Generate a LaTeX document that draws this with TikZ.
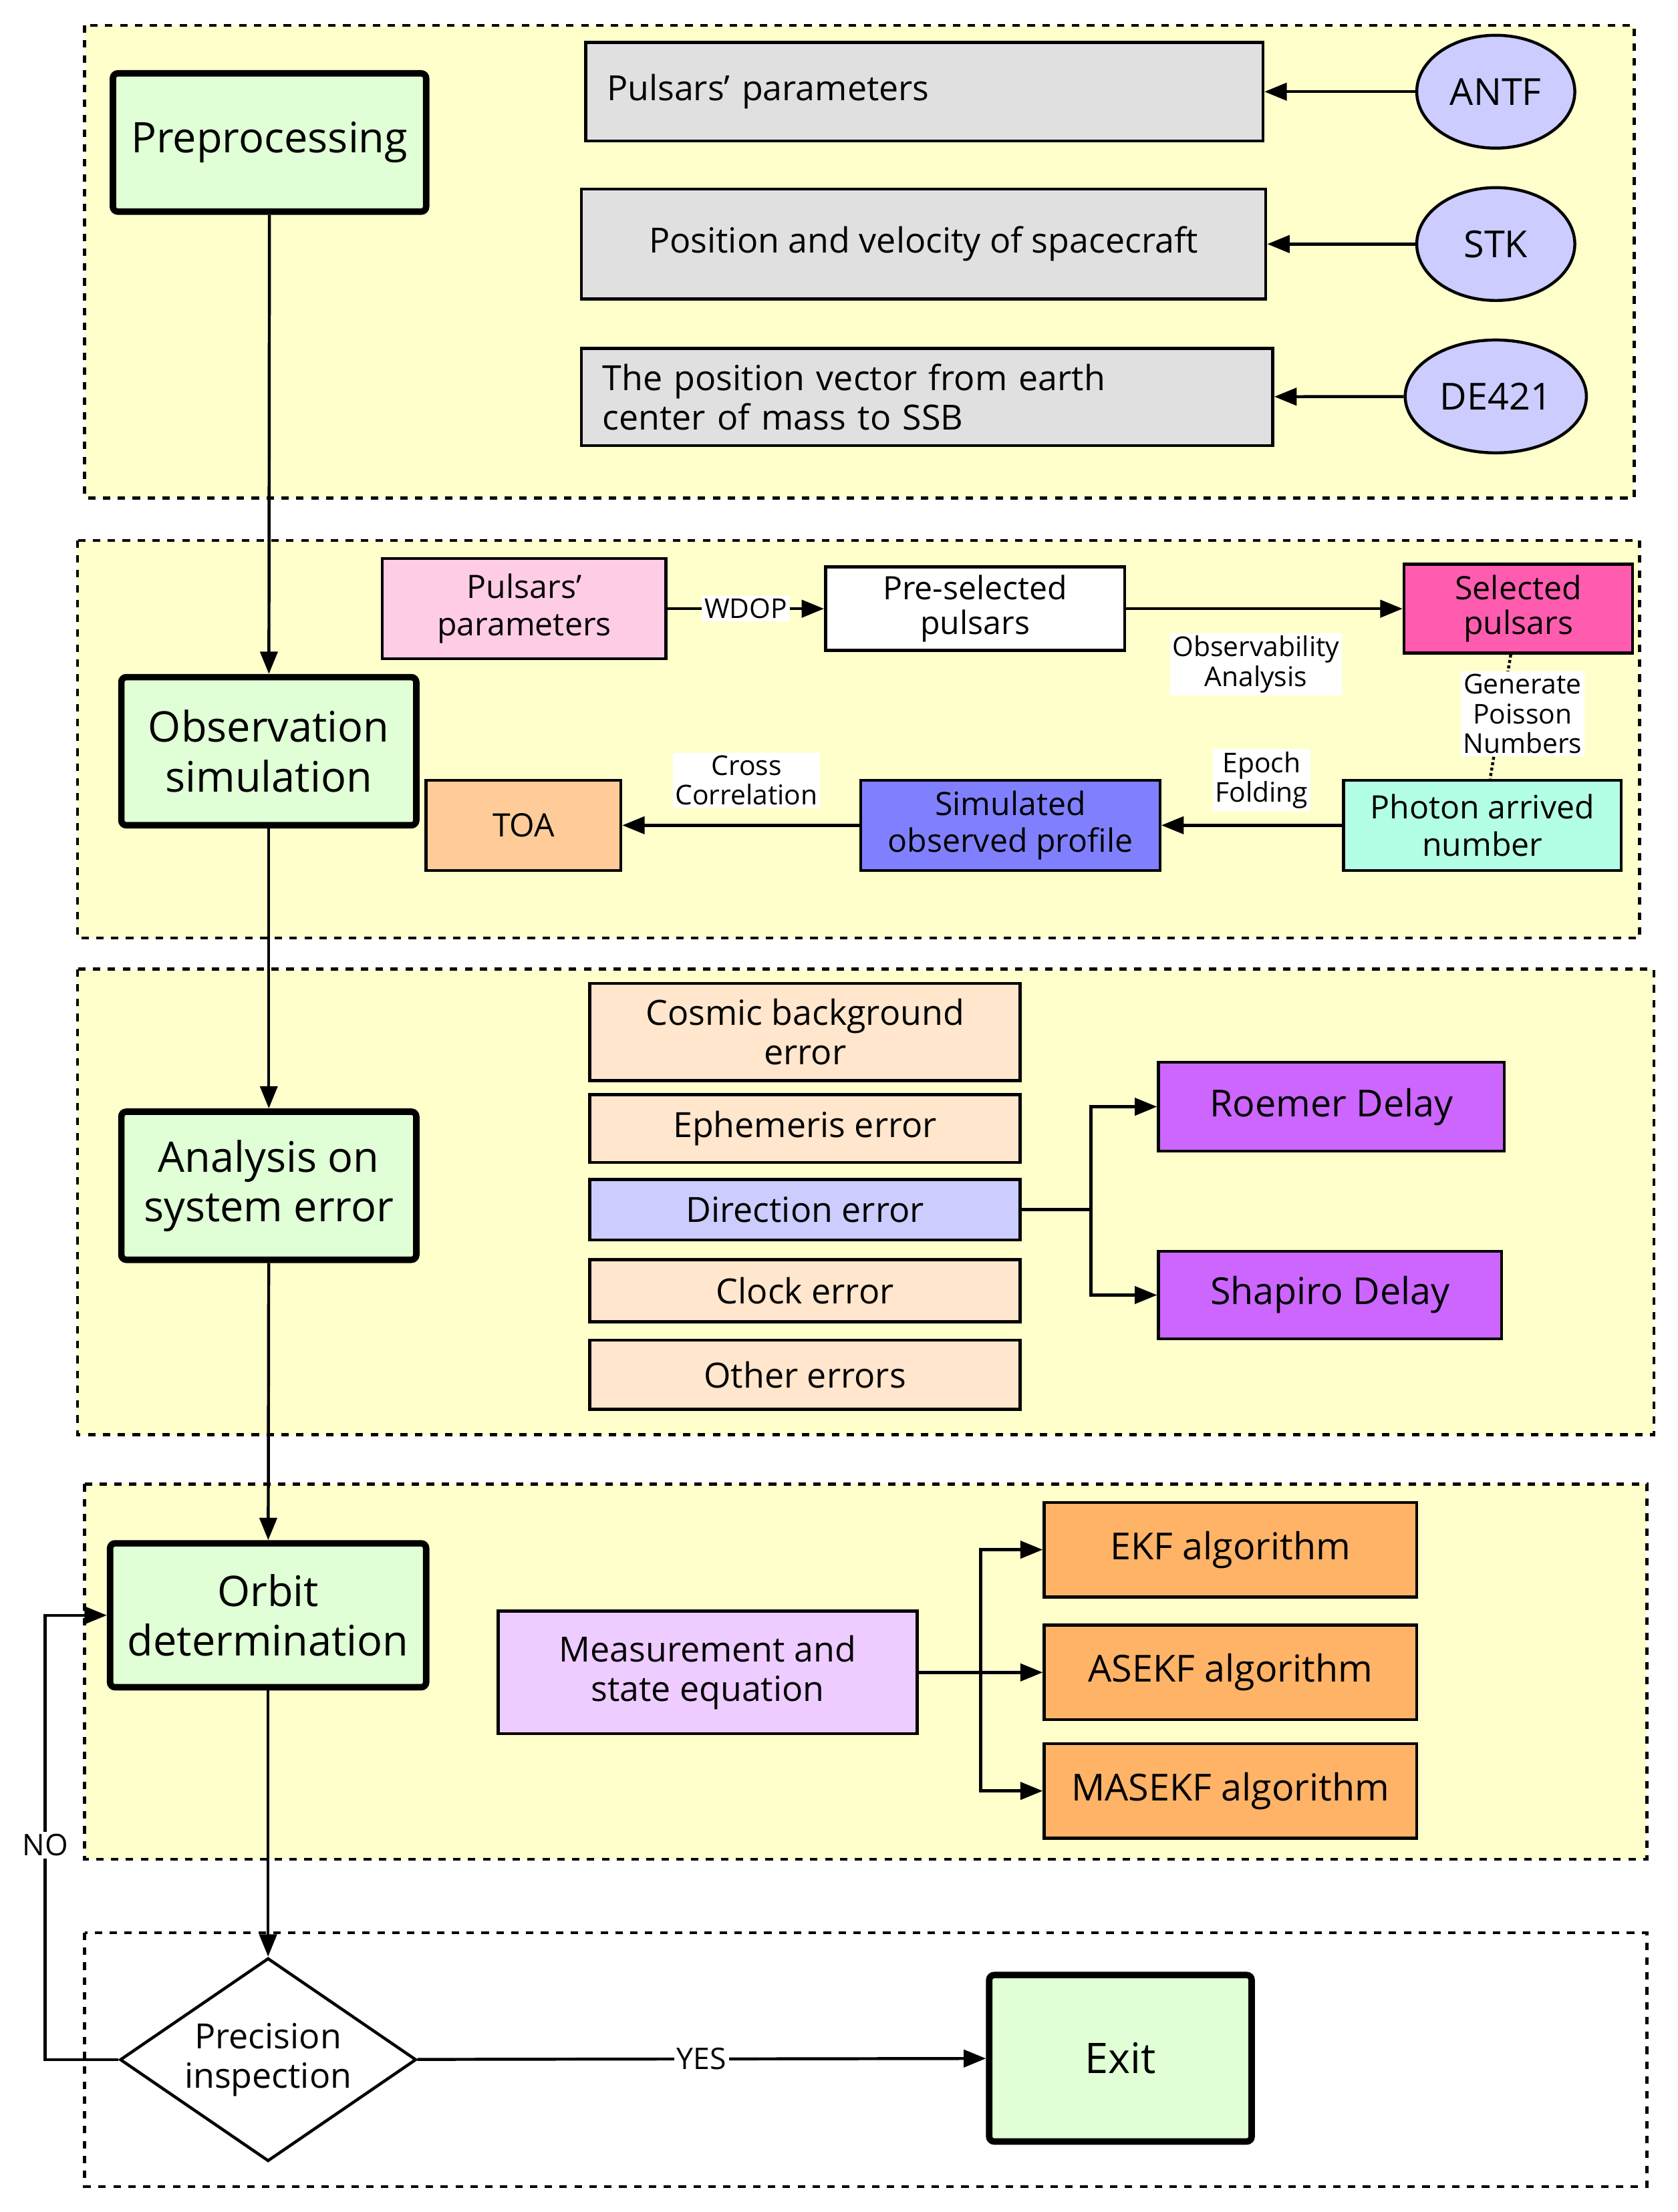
\documentclass[tikz,border=0pt]{standalone}
\usepackage{fontspec}
\setmainfont{Open Sans}
\usetikzlibrary{shapes.geometric,arrows.meta}
\definecolor{grp}{HTML}{FFFFCC}
\definecolor{grn}{HTML}{E0FFD6}
\definecolor{gry}{HTML}{E0E0E0}
\definecolor{ell}{HTML}{CCCCFF}
\definecolor{pk}{HTML}{FFCCE6}
\definecolor{mag}{HTML}{FF5CB0}
\definecolor{aq}{HTML}{B3FFE6}
\definecolor{blu}{HTML}{8080FF}
\definecolor{toa}{HTML}{FFCC99}
\definecolor{err}{HTML}{FFE6CC}
\definecolor{pur}{HTML}{CC66FF}
\definecolor{lil}{HTML}{EECCFF}
\definecolor{org}{HTML}{FFB366}
\begin{document}
\begin{tikzpicture}[x=0.02cm,y=-0.02cm,
 grp/.style={draw,dashed,line width=1.2pt,fill=grp},
 main/.style={draw,line width=2.6pt,fill=grn,rounded corners=2pt,align=center,font=\fontsize{17}{20}\selectfont},
 bx/.style={draw,line width=1.2pt,align=center,font=\fontsize{14}{16}\selectfont},
 lbl/.style={fill=white,inner sep=1pt,align=center,font=\fontsize{11}{12}\selectfont},
 ar/.style={line width=1.2pt,-{Triangle[length=9pt,width=7pt]}}]
\useasboundingbox (0,0) rectangle (1189,1568);
\draw[grp] (60,18) rectangle (1158,353);
\draw[grp] (55,383) rectangle (1162,665);
\draw[grp] (55,687) rectangle (1172,1017);
\draw[grp] (60,1052) rectangle (1167,1318);
\draw[dashed,line width=1.2pt] (60,1370) rectangle (1167,1550);
% group 1
\node[main,minimum width=222*0.02cm,minimum height=98*0.02cm] (pre) at (191,101) {Preprocessing};
\node[bx,fill=gry,minimum width=480*0.02cm,minimum height=70*0.02cm,text width=450*0.02cm,align=left] (pp) at (655,65) {Pulsars' parameters};
\node[bx,fill=gry,minimum width=485*0.02cm,minimum height=78*0.02cm] (pv) at (654.5,173) {Position and velocity of spacecraft};
\node[bx,fill=gry,minimum width=490*0.02cm,minimum height=69*0.02cm,text width=460*0.02cm,align=left] (pve) at (657,281.5) {The position vector from earth\\center of mass to SSB};
\node[ellipse,draw,line width=1.2pt,fill=ell,minimum width=112*0.02cm,minimum height=80*0.02cm,font=\fontsize{15}{18}\selectfont] (antf) at (1060,65) {ANTF};
\node[ellipse,draw,line width=1.2pt,fill=ell,minimum width=112*0.02cm,minimum height=80*0.02cm,font=\fontsize{15}{18}\selectfont] (stk) at (1060,173) {STK};
\node[ellipse,draw,line width=1.2pt,fill=ell,minimum width=112*0.02cm,minimum height=80*0.02cm,font=\fontsize{15}{18}\selectfont] (de) at (1060,281) {DE421};
\draw[ar] (antf) -- (pp);
\draw[ar] (stk) -- (pv);
\draw[ar] (de) -- (pve);
% group 2
\node[main,minimum width=209*0.02cm,minimum height=105*0.02cm] (obs) at (190.5,532.5) {Observation\\simulation};
\node[bx,fill=pk,minimum width=201*0.02cm,minimum height=71*0.02cm,font=\fontsize{13}{15}\selectfont] (pp2) at (371.5,431.5) {Pulsars'\\parameters};
\node[bx,fill=white,minimum width=212*0.02cm,minimum height=57*0.02cm,font=\fontsize{13}{14}\selectfont] (ps) at (691,431.5) {Pre-selected\\pulsars};
\node[bx,fill=mag,minimum width=162*0.02cm,minimum height=63*0.02cm,font=\fontsize{13}{14}\selectfont] (sp) at (1076,431.5) {Selected\\pulsars};
\node[bx,fill=aq,minimum width=197*0.02cm,minimum height=64*0.02cm,font=\fontsize{13}{15}\selectfont] (ph) at (1050.5,585) {Photon arrived\\number};
\node[bx,fill=blu,minimum width=212*0.02cm,minimum height=64*0.02cm,font=\fontsize{13}{15}\selectfont] (sim) at (716,585) {Simulated\\observed profile};
\node[bx,fill=toa,minimum width=138*0.02cm,minimum height=64*0.02cm,font=\fontsize{13}{15}\selectfont] (toa) at (371,585) {TOA};
\draw[ar] (pp2) -- node[lbl]{WDOP} (ps);
\draw[ar] (ps) -- (sp);
\node[lbl] at (890,471) {Observability\\Analysis};
\draw[line width=1.2pt,densely dotted] (sp) -- (ph);
\node[lbl] at (1079,506) {Generate\\Poisson\\Numbers};
\draw[ar] (ph) -- (sim);
\node[lbl] at (894,553) {Epoch\\Folding};
\draw[ar] (sim) -- (toa);
\node[lbl] at (529,553) {Cross\\Correlation};
% group 3
\node[main,minimum width=209*0.02cm,minimum height=105*0.02cm] (ana) at (190.5,840.5) {Analysis on\\system error};
\node[bx,fill=err,minimum width=305*0.02cm,minimum height=69*0.02cm] (e1) at (570.5,731.5) {Cosmic background\\error};
\node[bx,fill=err,minimum width=305*0.02cm,minimum height=48*0.02cm] (e2) at (570.5,800) {Ephemeris error};
\node[bx,fill=ell,minimum width=305*0.02cm,minimum height=43*0.02cm] (e3) at (570.5,857.5) {Direction error};
\node[bx,fill=err,minimum width=305*0.02cm,minimum height=44*0.02cm] (e4) at (570.5,915) {Clock error};
\node[bx,fill=err,minimum width=305*0.02cm,minimum height=49*0.02cm] (e5) at (570.5,974.5) {Other errors};
\node[bx,fill=pur,minimum width=245*0.02cm,minimum height=63*0.02cm,font=\fontsize{15}{18}\selectfont] (roe) at (943.5,784.5) {Roemer Delay};
\node[bx,fill=pur,minimum width=243*0.02cm,minimum height=62*0.02cm,font=\fontsize{15}{18}\selectfont] (sha) at (942.5,918) {Shapiro Delay};
\coordinate (b1) at (773,857.5);
\draw[line width=1.2pt] (e3) -- (b1);
\draw[ar] (b1) |- (roe);
\draw[ar] (b1) |- (sha);
% group 4
\node[main,minimum width=224*0.02cm,minimum height=102*0.02cm] (orb) at (190,1145) {Orbit\\determination};
\node[bx,fill=lil,minimum width=297*0.02cm,minimum height=87*0.02cm] (meq) at (501.5,1185.5) {Measurement and\\state equation};
\node[bx,fill=org,minimum width=264*0.02cm,minimum height=67*0.02cm,font=\fontsize{15}{18}\selectfont] (ekf) at (872,1098.5) {EKF algorithm};
\node[bx,fill=org,minimum width=264*0.02cm,minimum height=67*0.02cm,font=\fontsize{15}{18}\selectfont] (asekf) at (872,1185.5) {ASEKF algorithm};
\node[bx,fill=org,minimum width=264*0.02cm,minimum height=67*0.02cm,font=\fontsize{15}{18}\selectfont] (masekf) at (872,1269.5) {MASEKF algorithm};
\coordinate (b2) at (695,1185.5);
\draw[line width=1.2pt] (meq) -- (b2);
\draw[ar] (b2) |- (ekf);
\draw[ar] (b2) -- (asekf);
\draw[ar] (b2) |- (masekf);
% group 5
\node[diamond,draw,line width=1.2pt,fill=white,minimum width=210*0.02cm,minimum height=144*0.02cm,aspect=1.46,inner sep=0pt,align=center,font=\fontsize{14}{16}\selectfont] (pi) at (190,1460) {Precision\\inspection};
\node[main,minimum width=186*0.02cm,minimum height=118*0.02cm] (exit) at (794,1459) {Exit};
\draw[ar] (pi) -- node[fill=white,inner sep=1pt,font=\fontsize{12}{14}\selectfont]{YES} (exit);
\coordinate (nl) at (32,1145);
\draw[ar] (pi.west) -| (nl) -- (orb.west);
\node[fill=white,inner sep=1pt,font=\fontsize{12}{14}\selectfont] at (32,1308) {NO};
% main flow
\draw[ar] (pre) -- (obs);
\draw[ar] (obs) -- (ana);
\draw[ar] (ana) -- (orb);
\draw[ar] (orb) -- (pi);
\end{tikzpicture}
\end{document}
